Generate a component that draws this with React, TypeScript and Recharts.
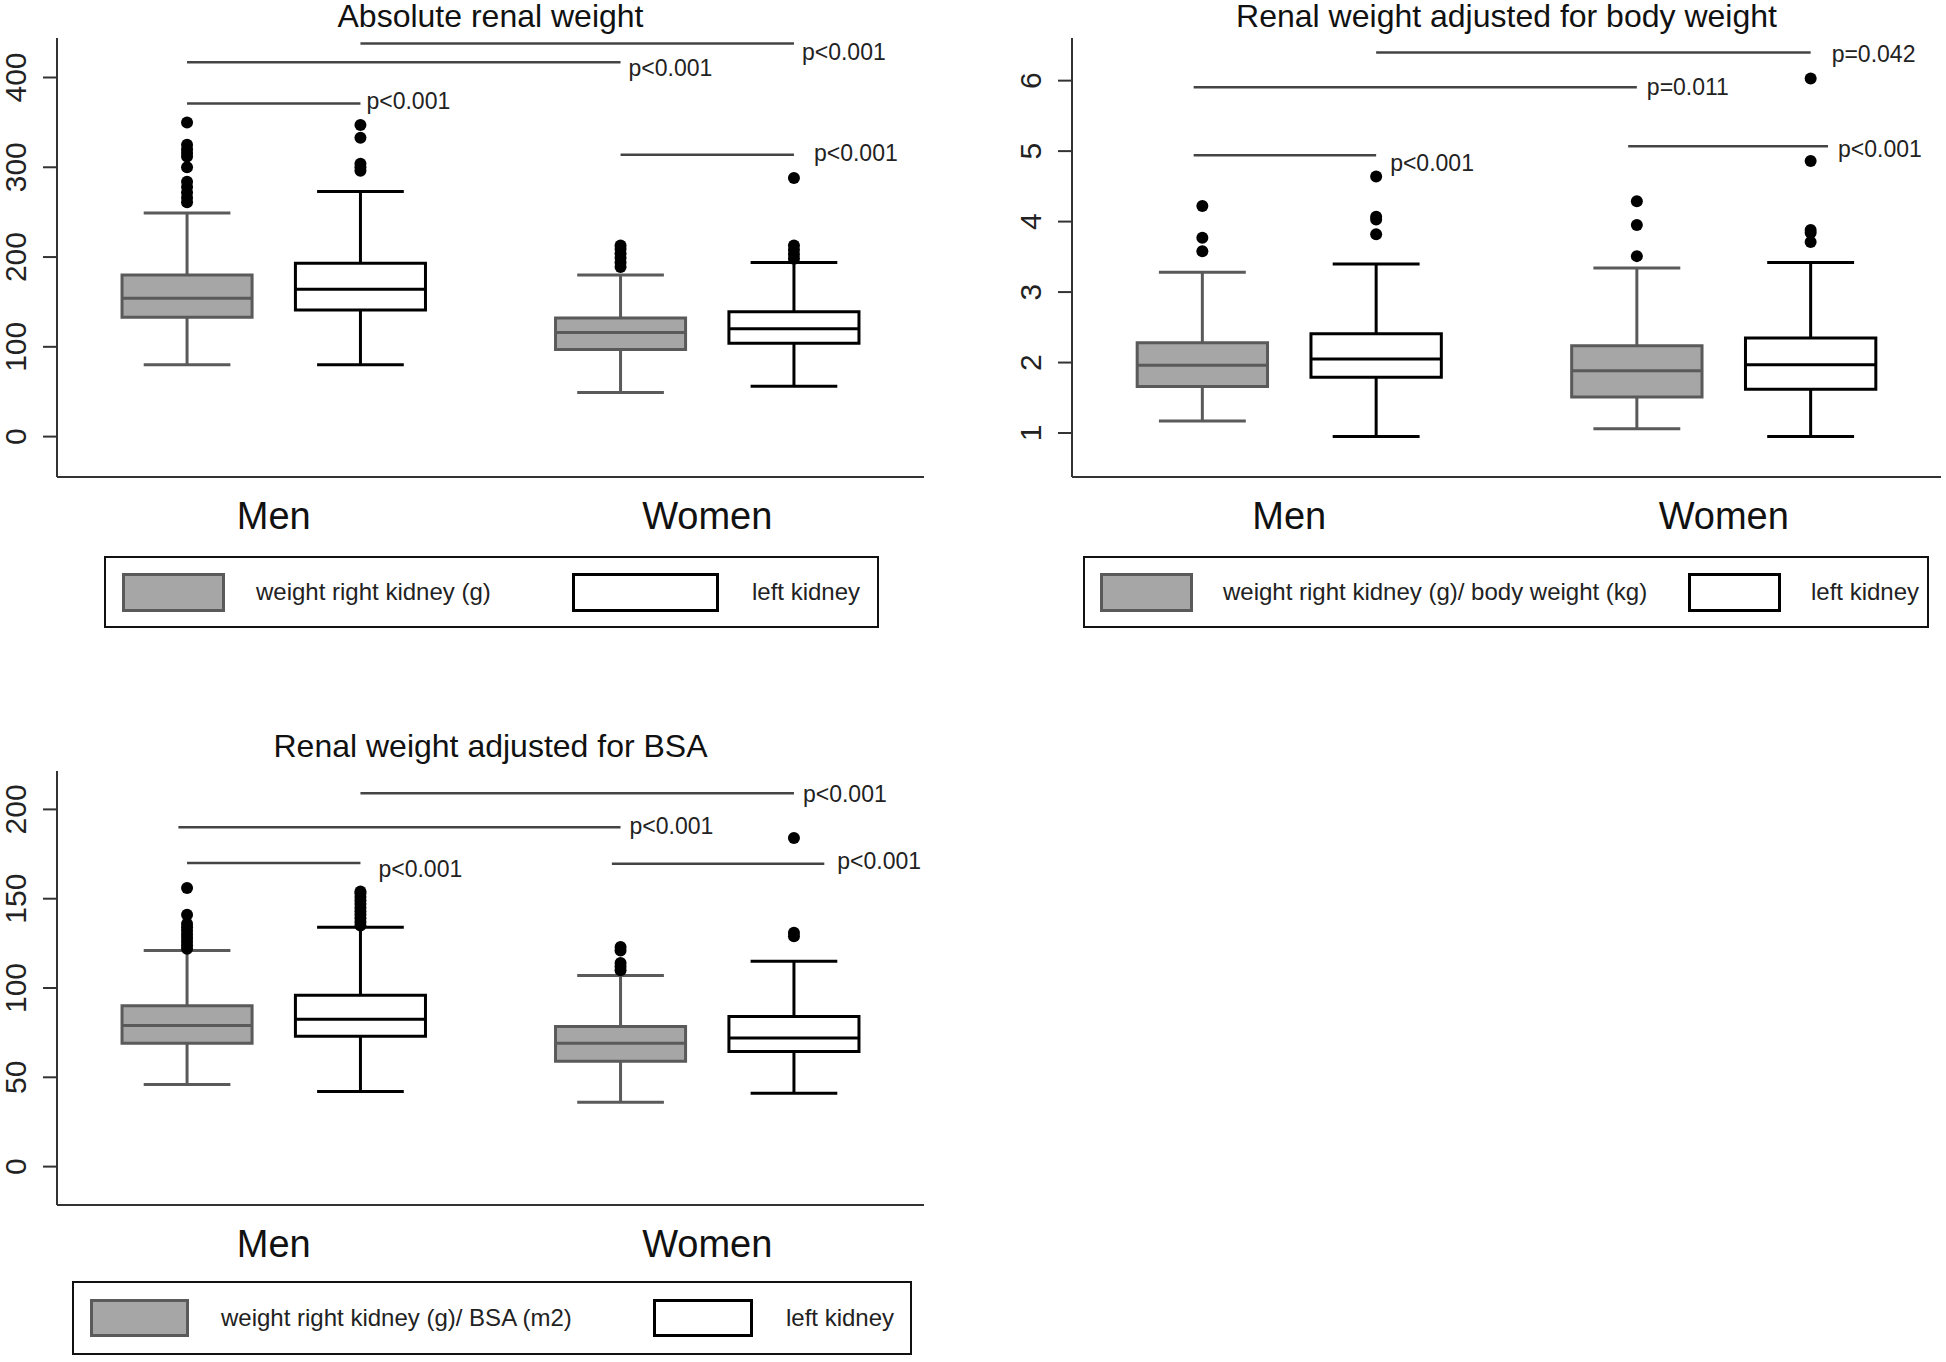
import React from 'react'
import { ComposedChart, XAxis, YAxis, Scatter, ReferenceArea, ReferenceLine } from 'recharts'

const FONT = '"Liberation Sans", Arial, Helvetica, sans-serif'

const groups = ['Men', 'Women']

// box stats per group: [lower whisker, Q1, median, Q3, upper whisker]
const absRight = [[80, 133, 154, 180, 249], [49, 97, 116, 132, 180]]
const absLeft = [[80, 141, 164, 193, 273], [56, 104, 120, 139, 194]]
const absRightOut = [[261, 266, 272, 278, 284, 300, 312, 316, 320, 325, 350], [189, 194, 199, 204, 209, 213]]
const absLeftOut = [[296, 300, 304, 333, 347], [198, 203, 208, 213, 288]]
const absPY = [438, 417, 371, 314]
const absPText = ['p<0.001', 'p<0.001', 'p<0.001', 'p<0.001']

const bwRight = [[1.17, 1.66, 1.96, 2.28, 3.28], [1.06, 1.51, 1.885, 2.24, 3.34]]
const bwLeft = [[0.95, 1.79, 2.05, 2.41, 3.4], [0.95, 1.62, 1.97, 2.35, 3.42]]
const bwRightOut = [[3.58, 3.77, 4.22], [3.51, 3.95, 4.29]]
const bwLeftOut = [[3.82, 4.03, 4.07, 4.64], [3.71, 3.84, 3.88, 4.86, 6.03]]
const bwPY = [6.4, 5.905, 4.94, 5.07]
const bwPText = ['p=0.042', 'p=0.011', 'p<0.001', 'p<0.001']

const bsaRight = [[46, 69, 79, 90, 121], [36, 59, 69, 78.5, 107]]
const bsaLeft = [[42, 73, 82.5, 96, 134], [41, 64.5, 72, 84, 115]]
const bsaRightOut = [[122, 124, 126, 128, 130, 132, 134, 136, 141, 156], [110, 112, 114, 121, 123]]
const bsaLeftOut = [[135, 137, 139, 141, 143, 145, 147, 149, 151, 153, 154], [129, 131, 184]]
const bsaPY = [209, 190, 170, 169.5]
const bsaPText = ['p<0.001', 'p<0.001', 'p<0.001', 'p<0.001']

// layout on a 0-100 x axis
const groupX = [25, 75]
const slotOffset = 10
const boxHalf = 7.5
const capHalf = 5

// p-line x extents and label offsets [dx, dy] in px
const absPX = [[35, 85], [15, 65], [15, 35], [65, 85]]
const absPShift = [[8, 9], [8, 6], [6, -3], [20, -2]]
const bwPX = [[35, 85], [14, 65], [14, 35], [64, 87]]
const bwPShift = [[21, 2], [10, 0], [14, 8], [10, 3]]
const bsaPX = [[35, 85], [14, 65], [15, 35], [64, 88.5]]
const bsaPShift = [[9, 1], [9, -1], [18, 6], [13, -3]]

const grayStyle = { fill: '#a6a6a6', stroke: '#5a5a5a' }
const whiteStyle = { fill: '#ffffff', stroke: '#000000' }

function boxMarks(id: string, s: number[], x: number, st: { fill: string; stroke: string }) {
  const [lo, q1, med, q3, hi] = s
  const line = { stroke: st.stroke, strokeWidth: 3 }
  return [
    <ReferenceLine key={id + 'w1'} segment={[{ x, y: lo }, { x, y: q1 }]} {...line} />,
    <ReferenceLine key={id + 'w2'} segment={[{ x, y: q3 }, { x, y: hi }]} {...line} />,
    <ReferenceLine key={id + 'c1'} segment={[{ x: x - capHalf, y: lo }, { x: x + capHalf, y: lo }]} {...line} />,
    <ReferenceLine key={id + 'c2'} segment={[{ x: x - capHalf, y: hi }, { x: x + capHalf, y: hi }]} {...line} />,
    <ReferenceArea key={id + 'b'} x1={x - boxHalf} x2={x + boxHalf} y1={q1} y2={q3} fill={st.fill} fillOpacity={1} stroke={st.stroke} strokeWidth={3} />,
    <ReferenceLine key={id + 'm'} segment={[{ x: x - boxHalf, y: med }, { x: x + boxHalf, y: med }]} {...line} />,
  ]
}

const YTick = (props: any) => {
  const { x, y, payload } = props
  return (
    <text transform={`translate(${x - 17},${y}) rotate(-90)`} textAnchor="middle" fontSize={30} fill="#222" fontFamily={FONT}>
      {payload.value}
    </text>
  )
}

const CatTick = (props: any) => {
  const { x, y, index } = props
  return (
    <text x={x} y={y + 52} textAnchor="middle" fontSize={38} fill="#111" fontFamily={FONT}>
      {groups[index]}
    </text>
  )
}

const Dot = (props: any) => <circle cx={props.cx} cy={props.cy} r={6} fill="#000" />

const PLabel = (props: any) => (
  <text x={props.cx + props.payload.dx} y={props.cy + props.payload.dy + 8} fontSize={23} fill="#222" fontFamily={FONT}>
    {props.payload.text}
  </text>
)

interface PanelProps {
  left: number
  top: number
  width: number
  margin: { top: number; right: number; bottom: number; left: number }
  yDomain: [number, number]
  yTicks: number[]
  right: number[][]
  leftK: number[][]
  rightOut: number[][]
  leftOut: number[][]
  pY: number[]
  pText: string[]
  pX: number[][]
  pShift: number[][]
}

function Panel(p: PanelProps) {
  const outliers: { x: number; y: number }[] = []
  groupX.forEach((gx, g) => {
    p.rightOut[g].forEach((v) => outliers.push({ x: gx - slotOffset, y: v }))
    p.leftOut[g].forEach((v) => outliers.push({ x: gx + slotOffset, y: v }))
  })
  const labels = p.pY.map((v, i) => ({ x: p.pX[i][1], y: v, text: p.pText[i], dx: p.pShift[i][0], dy: p.pShift[i][1] }))
  const axisStroke = { stroke: '#333', strokeWidth: 2 }
  return (
    <div style={{ position: 'absolute', left: p.left, top: p.top }}>
      <ComposedChart width={p.width} height={560} margin={p.margin}>
        <XAxis
          type="number"
          dataKey="x"
          domain={[0, 100]}
          ticks={groupX}
          interval={0}
          tick={<CatTick />}
          tickLine={false}
          tickSize={0}
          tickMargin={0}
          axisLine={axisStroke}
          height={70}
        />
        <YAxis
          type="number"
          dataKey="y"
          domain={p.yDomain}
          ticks={p.yTicks}
          interval={0}
          tick={<YTick />}
          tickSize={14}
          tickMargin={0}
          tickLine={axisStroke}
          axisLine={axisStroke}
          width={57}
        />
        {groupX.map((gx, g) => [
          ...boxMarks('r' + g, p.right[g], gx - slotOffset, grayStyle),
          ...boxMarks('l' + g, p.leftK[g], gx + slotOffset, whiteStyle),
        ])}
        {p.pY.map((v, i) => (
          <ReferenceLine key={'p' + i} segment={[{ x: p.pX[i][0], y: v }, { x: p.pX[i][1], y: v }]} stroke="#444" strokeWidth={2.5} />
        ))}
        <Scatter data={outliers} shape={<Dot />} isAnimationActive={false} />
        <Scatter data={labels} shape={<PLabel />} isAnimationActive={false} />
      </ComposedChart>
    </div>
  )
}

function Title({ text, left, width, baseline }: { text: string; left: number; width: number; baseline: number }) {
  return (
    <div style={{ position: 'absolute', left, width, top: baseline - 27, fontSize: 32, lineHeight: '32px', textAlign: 'center', color: '#111', fontFamily: FONT }}>
      {text}
    </div>
  )
}

interface LegendProps {
  box: [number, number, number, number]
  swatchTop: number
  swatchH: number
  gray: [number, number]
  white: [number, number]
  text1: [number, string]
  text2: [number, string]
}

function LegendBox(l: LegendProps) {
  const [bx, by, bw, bh] = l.box
  const txt = (x: number, t: string) => (
    <div style={{ position: 'absolute', left: x - bx, top: 0, height: bh - 4, display: 'flex', alignItems: 'center', fontSize: 24, color: '#222', fontFamily: FONT, whiteSpace: 'nowrap' }}>{t}</div>
  )
  return (
    <div style={{ position: 'absolute', left: bx, top: by, width: bw - 4, height: bh - 4, border: '2px solid #111', background: '#fff' }}>
      <div style={{ position: 'absolute', left: l.gray[0] - bx - 2, top: l.swatchTop - by - 2, width: l.gray[1] - 6, height: l.swatchH - 6, background: grayStyle.fill, border: `3px solid ${grayStyle.stroke}` }} />
      {txt(l.text1[0] - 2, l.text1[1])}
      <div style={{ position: 'absolute', left: l.white[0] - bx - 2, top: l.swatchTop - by - 2, width: l.white[1] - 6, height: l.swatchH - 6, background: '#fff', border: '3px solid #000' }} />
      {txt(l.text2[0] - 2, l.text2[1])}
    </div>
  )
}

export default function App() {
  return (
    <div style={{ position: 'absolute', left: 0, top: 0, width: 1946, height: 1362, background: '#fff', fontFamily: FONT }}>
      <Panel
        left={0} top={0} width={960}
        margin={{ top: 38, right: 36, bottom: 13, left: 0 }}
        yDomain={[-45, 444]} yTicks={[0, 100, 200, 300, 400]}
        right={absRight} leftK={absLeft} rightOut={absRightOut} leftOut={absLeftOut}
        pY={absPY} pText={absPText} pX={absPX} pShift={absPShift}
      />
      <Panel
        left={1015} top={0} width={931}
        margin={{ top: 38, right: 5, bottom: 13, left: 0 }}
        yDomain={[0.376, 6.605]} yTicks={[1, 2, 3, 4, 5, 6]}
        right={bwRight} leftK={bwLeft} rightOut={bwRightOut} leftOut={bwLeftOut}
        pY={bwPY} pText={bwPText} pX={bwPX} pShift={bwPShift}
      />
      <Panel
        left={0} top={733} width={960}
        margin={{ top: 38, right: 36, bottom: 18, left: 0 }}
        yDomain={[-21.5, 221.5]} yTicks={[0, 50, 100, 150, 200]}
        right={bsaRight} leftK={bsaLeft} rightOut={bsaRightOut} leftOut={bsaLeftOut}
        pY={bsaPY} pText={bsaPText} pX={bsaPX} pShift={bsaPShift}
      />
      <Title text="Absolute renal weight" left={57} width={867} baseline={27} />
      <Title text="Renal weight adjusted for body weight" left={1072} width={869} baseline={27} />
      <Title text="Renal weight adjusted for BSA" left={57} width={867} baseline={757} />
      <LegendBox
        box={[104, 556, 775, 72]} swatchTop={573} swatchH={39}
        gray={[122, 103]} white={[572, 147]}
        text1={[256, 'weight right kidney (g)']} text2={[752, 'left kidney']}
      />
      <LegendBox
        box={[1083, 556, 846, 72]} swatchTop={573} swatchH={39}
        gray={[1100, 93]} white={[1688, 93]}
        text1={[1223, 'weight right kidney (g)/ body weight (kg)']} text2={[1811, 'left kidney']}
      />
      <LegendBox
        box={[72, 1281, 840, 74]} swatchTop={1299} swatchH={38}
        gray={[90, 99]} white={[653, 100]}
        text1={[221, 'weight right kidney (g)/ BSA (m2)']} text2={[786, 'left kidney']}
      />
    </div>
  )
}
